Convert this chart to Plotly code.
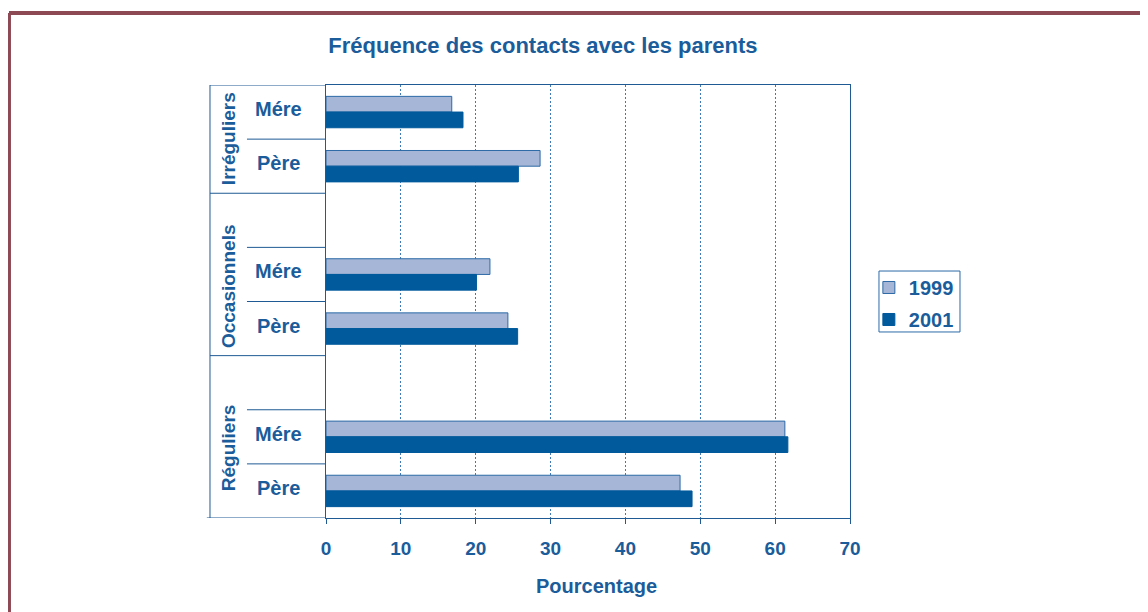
import plotly.graph_objects as go

# data
groups = ["Irréguliers", "Occasionnels", "Réguliers"]
parents = ["Mére", "Père"]
years = ["1999", "2001"]
val_1999 = [16.8, 28.6, 21.9, 24.3, 61.3, 47.3]
val_2001 = [18.3, 25.7, 20.1, 25.6, 61.7, 48.9]
gaps = [" ", "  "]

# category slots, top to bottom (empty slot above Occasionnels and Réguliers)
cats = [g + "|" + p for g in groups for p in parents]
slots = [cats[0], cats[1], gaps[0], cats[2], cats[3], gaps[1], cats[4], cats[5]]

TXT = "#1b5c9b"
LINE = "#1f5a94"
LIGHT = "#a5b6d6"
DARK = "#005a9c"
FONT = "Liberation Sans, Arial, sans-serif"

fig = go.Figure()
fig.add_trace(go.Bar(y=cats, x=val_1999, orientation="h", name="<b>%s</b>" % years[0],
                     legendgroup="a",
                     marker=dict(color=LIGHT, line=dict(color="#2d6aa6", width=1))))
fig.add_trace(go.Bar(y=cats, x=val_2001, orientation="h", name="<b>%s</b>" % years[1],
                     legendgroup="b",
                     marker=dict(color=DARK, line=dict(color=DARK, width=1))))
# keeps the empty slots on the axis
fig.add_trace(go.Scatter(y=gaps, x=[None, None], mode="markers",
                         showlegend=False, hoverinfo="skip"))

shapes = []
XL = -0.2214   # outer box left edge (paper)
XI = -0.1508   # inner divider start
for yv in [0.5, 2.5, 3.5, 5.5, 6.5]:
    shapes.append(dict(type="line", xref="paper", yref="y", x0=XI, x1=0,
                       y0=yv, y1=yv, line=dict(color=LINE, width=1)))
for yv in [1.5, 4.5]:
    shapes.append(dict(type="line", xref="paper", yref="y", x0=XL, x1=0,
                       y0=yv, y1=yv, line=dict(color=LINE, width=1)))
shapes.append(dict(type="line", xref="paper", yref="y", x0=XL, x1=0,
                   y0=-0.5, y1=-0.5, line=dict(color=LINE, width=1)))
shapes.append(dict(type="line", xref="paper", yref="y", x0=XL - 0.006, x1=0,
                   y0=7.5, y1=7.5, line=dict(color=LINE, width=1)))
shapes.append(dict(type="line", xref="paper", yref="y", x0=XL, x1=XL,
                   y0=-0.5, y1=7.5, line=dict(color=LINE, width=1)))
# legend frame
shapes.append(dict(type="rect", xref="paper", yref="paper", x0=1.0553, x1=1.2099,
                   y0=0.4296, y1=0.5704, line=dict(color="#2d6aa6", width=1)))
# maroon page frame
shapes.append(dict(type="line", xref="paper", yref="paper", x0=-0.605, x1=1.6,
                   y0=1.1663, y1=1.1663, line=dict(color="#8e4a54", width=4)))
shapes.append(dict(type="line", xref="paper", yref="paper", x0=-0.605, x1=-0.605,
                   y0=1.1663, y1=-0.3, line=dict(color="#8e4a54", width=4)))

annotations = []
for c in cats:
    annotations.append(dict(xref="paper", yref="y", x=-0.0916, y=c, yshift=3,
                            xanchor="center", yanchor="middle",
                            text="<b>%s</b>" % c.split("|")[1], showarrow=False,
                            font=dict(size=20, color=TXT, family=FONT)))
for g, yc in zip(groups, [0.5, 3.215, 6.21]):
    annotations.append(dict(xref="paper", yref="y", x=-0.187, y=yc,
                            xanchor="center", yanchor="middle",
                            text="<b>%s</b>" % g, textangle=-90, showarrow=False,
                            font=dict(size=19, color=TXT, family=FONT)))
annotations.append(dict(xref="paper", yref="paper", x=0.517, y=-0.157,
                        xanchor="center", yanchor="middle", showarrow=False,
                        text="<b>Pourcentage</b>",
                        font=dict(size=20, color=TXT, family=FONT)))

fig.update_layout(
    width=1148, height=612,
    margin=dict(l=318, r=306, t=77, b=102),
    paper_bgcolor="white", plot_bgcolor="white",
    barmode="group", bargap=0.42, bargroupgap=0,
    font=dict(family=FONT, color=TXT, size=19),
    title=dict(text="<b>Fréquence des contacts avec les parents</b>",
               xref="paper", x=0.414, xanchor="center",
               y=1 - 37 / 612, yanchor="middle",
               font=dict(size=22, color=TXT, family=FONT)),
    xaxis=dict(range=[0, 70], dtick=10, tick0=0, showline=True, mirror=True,
               linecolor=LINE, linewidth=1, ticks="outside", ticklen=5,
               tickcolor=LINE, showgrid=True, gridcolor="#3f7ab8",
               griddash="2px,2px", gridwidth=1, zeroline=False,
               ticklabelstandoff=8,
               tickfont=dict(size=19, color=TXT, family=FONT),
               tickprefix="<b>", ticksuffix="</b>"),
    yaxis=dict(type="category", categoryorder="array", categoryarray=slots,
               range=[7.5, -0.5], showline=True, mirror=True, linecolor=LINE,
               linewidth=1, showticklabels=False, ticks="", showgrid=False,
               zeroline=False),
    legend=dict(x=1.036, xanchor="left", y=0.5774, yanchor="top",
                borderwidth=0, bgcolor="rgba(0,0,0,0)",
                traceorder="grouped", tracegroupgap=3, itemwidth=30,
                font=dict(size=20, color=TXT, family=FONT)),
    shapes=shapes, annotations=annotations,
)

fig.write_html("out.html")
